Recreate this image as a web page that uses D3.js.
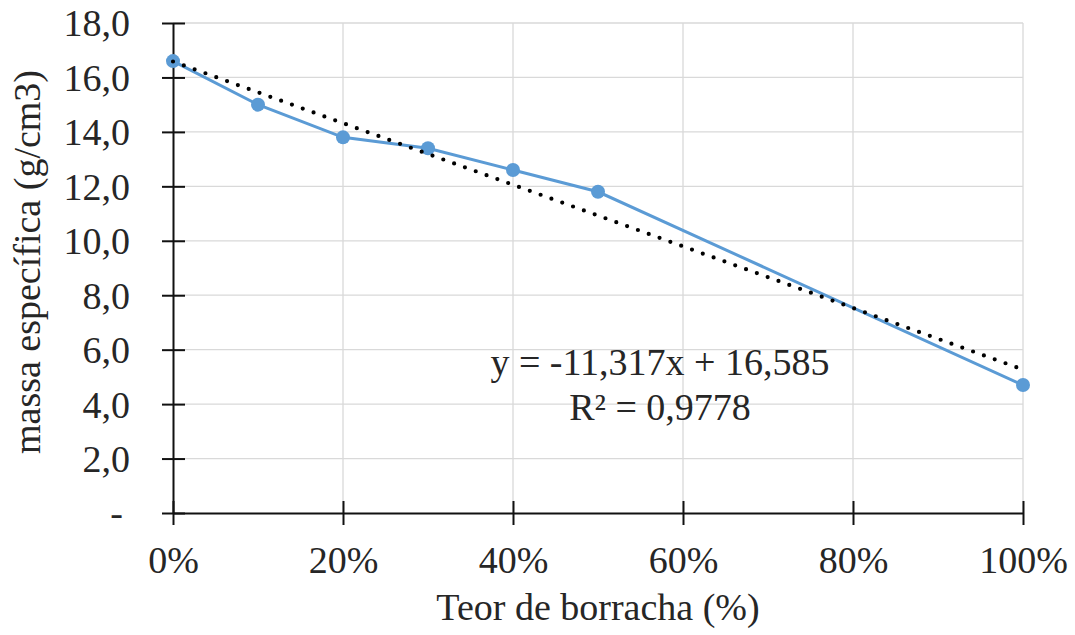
<!DOCTYPE html>
<html><head><meta charset="utf-8">
<script src="https://cdn.jsdelivr.net/npm/d3@7"></script>
<style>body{margin:0;background:#fff}</style>
</head><body>
<svg id="c" width="1075" height="635"></svg>
<script>
const teor = [0, 0.1, 0.2, 0.3, 0.4, 0.5, 1.0];
const massa = [16.6, 15.0, 13.8, 13.4, 12.6, 11.8, 4.7];
const xTicks = [0, 0.2, 0.4, 0.6, 0.8, 1.0];
const yTicks = [0, 2, 4, 6, 8, 10, 12, 14, 16, 18];
const trendSlope = -11.317, trendIntercept = 16.585;
const eqLines = ["y = -11,317x + 16,585", "R² = 0,9778"];

const svg = d3.select("#c");
const L = 173, R = 1023, T = 23, B = 513;
const x = d3.scaleLinear().domain([0, 1]).range([L, R]);
const y = d3.scaleLinear().domain([0, 18]).range([B, T]);
const fmtY = v => v === 0 ? "-" : d3.format(".1f")(v).replace(".", ",");
const fmtX = v => Math.round(v * 100) + "%";

// gridlines
svg.append("g").selectAll("line").data(yTicks.filter(d => d > 0)).join("line")
  .attr("x1", L).attr("x2", R).attr("y1", d => y(d)).attr("y2", d => y(d))
  .attr("stroke", "#d9d9d9").attr("stroke-width", 1.3);
svg.append("g").selectAll("line").data(xTicks.filter(d => d > 0)).join("line")
  .attr("x1", d => x(d)).attr("x2", d => x(d)).attr("y1", T).attr("y2", B)
  .attr("stroke", "#d9d9d9").attr("stroke-width", 1.3);

// axes
const yAxis = svg.append("g").attr("transform", `translate(${L},0)`)
  .call(d3.axisLeft(y).tickValues(yTicks).tickFormat(fmtY).tickSizeInner(11).tickSizeOuter(0).tickPadding(32));
yAxis.attr("font-family", null).attr("font-size", null);
yAxis.select(".domain").attr("stroke", "#111").attr("stroke-width", 2);
yAxis.selectAll(".tick line").attr("stroke", "#111").attr("stroke-width", 2).attr("x2", 12).attr("x1", -11);
yAxis.selectAll(".tick text").attr("dy", "0.34em").attr("dx", d => d === 0 ? -7 : 0);

const xAxis = svg.append("g").attr("transform", `translate(0,${B})`)
  .call(d3.axisBottom(x).tickValues(xTicks).tickFormat(fmtX).tickSizeInner(12).tickSizeOuter(0).tickPadding(21));
xAxis.attr("font-family", null).attr("font-size", null);
xAxis.select(".domain").attr("stroke", "#111").attr("stroke-width", 2);
xAxis.selectAll(".tick line").attr("stroke", "#111").attr("stroke-width", 2).attr("y1", -12).attr("y2", 12);

// data line
const pts = teor.map((t, i) => [t, massa[i]]);
svg.append("path").datum(pts)
  .attr("d", d3.line().x(d => x(d[0])).y(d => y(d[1])))
  .attr("fill", "none").attr("stroke", "#5b9bd5").attr("stroke-width", 3);
svg.append("g").selectAll("circle").data(pts).join("circle")
  .attr("cx", d => x(d[0])).attr("cy", d => y(d[1])).attr("r", 7)
  .attr("fill", "#5b9bd5");

// trendline
const tr = [0, 1].map(t => [t, trendSlope * t + trendIntercept]);
svg.append("path").datum(tr)
  .attr("d", d3.line().x(d => x(d[0])).y(d => y(d[1])))
  .attr("fill", "none").attr("stroke", "#000").attr("stroke-width", 4.2)
  .attr("stroke-linecap", "round").attr("stroke-dasharray", "0 11.5");

// equation
svg.append("text").attr("x", 660).attr("y", 375).attr("text-anchor", "middle").text(eqLines[0]);
svg.append("text").attr("x", 660).attr("y", 420).attr("text-anchor", "middle").text(eqLines[1]);

// axis titles
svg.append("text").attr("x", 598).attr("y", 620).attr("text-anchor", "middle").text("Teor de borracha (%)");
svg.append("text").attr("transform", "translate(40,262) rotate(-90)").attr("text-anchor", "middle").text("massa específica (g/cm3)");

svg.selectAll("text")
  .style("font-family", '"Liberation Serif"')
  .attr("font-size", 38)
  .attr("fill", "#262626");
</script>
</body></html>
